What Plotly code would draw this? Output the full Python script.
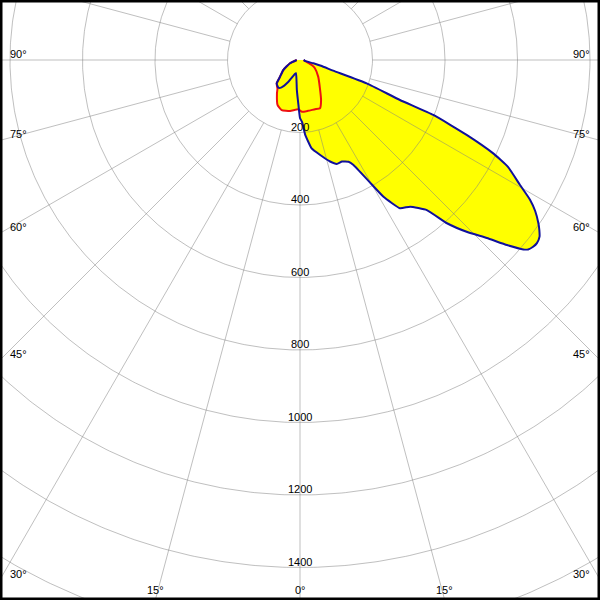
import numpy as np
import plotly.graph_objects as go

# ---------------- data ----------------
# C0-C180 plane (blue outline), angle in degrees from nadir, value in cd/klm
BLUE_ANGLE = [-90, -72, -59, -50, -45, -38, -34, -28, -20, -16.7, -6, -2, 0, 2, 4, 7.5, 12,
              16.5, 19.5, 22.5, 25.5, 27, 29.6, 31.4, 34, 36.9, 40.2, 42, 44.2, 46.4, 48.2,
              49.7, 50.3, 51.3, 52.3, 53.6, 54.6, 55.6, 57.3, 58.7, 60.4, 62.8, 64.2, 65.8,
              67.6, 68.2, 70.7, 72.2, 74.5, 76, 79, 85, 90]
BLUE_VALUE = [9, 29, 54, 72, 91, 97, 91, 68, 41, 38, 83, 124, 160, 172, 207, 246, 268,
              292, 304, 303, 311, 325, 385, 442, 493, 506, 542, 606, 662, 712, 766,
              808, 818, 824, 826, 821, 810, 797, 771, 743, 698, 645, 592, 504,
              398, 297, 195, 96, 60, 38, 14, 12, 10]

# C90-C270 plane (red outline)
RED_ANGLE = [-90, -72, -59, -50, -45, -38, -34.6, -26.4, -20, -11, -2, 2, 9, 17, 22.5,
             27.7, 35, 47.6, 61, 67, 79, 90]
RED_VALUE = [9, 29, 54, 72, 91, 101, 112, 139, 147, 143, 136, 143, 142, 142, 144,
             125, 96, 68, 47, 35, 14, 10]

RADIAL_LABELS = [200, 400, 600, 800, 1000, 1200, 1400]
GRID_CIRCLES = [200, 400, 600, 800, 1000, 1200, 1400, 1600, 1800]
ANGLE_LABELS = [0, 15, 30, 45, 60, 75, 90]
GRID_STEP_DEG = 15

# ---------------- geometry ----------------
W = H = 600
CX, CY = 300.0, 60.0          # pole position in pixels
S = 0.3625                    # pixels per unit

def to_xy(ang, val):
    a = np.radians(np.asarray(ang, float))
    v = np.asarray(val, float)
    return v * np.sin(a), -v * np.cos(a)

fig = go.Figure()

bx, by = to_xy(BLUE_ANGLE, BLUE_VALUE)
rx, ry = to_xy(RED_ANGLE, RED_VALUE)
YELLOW = "#ffff00"
for xx, yy in ((bx, by), (rx, ry)):
    fig.add_trace(go.Scatter(x=xx, y=yy, mode="lines", fill="toself",
                             fillcolor=YELLOW, line=dict(width=0, shape="spline", smoothing=0.4),
                             hoverinfo="skip", showlegend=False))

# grid circles
GRID_COLOR = "rgba(128,128,128,0.5)"
t = np.linspace(0, 2 * np.pi, 721)
gx, gy = [], []
for r in GRID_CIRCLES:
    gx += list(r * np.cos(t)) + [None]
    gy += list(r * np.sin(t)) + [None]
fig.add_trace(go.Scatter(x=gx, y=gy, mode="lines", line=dict(color=GRID_COLOR, width=1),
                         hoverinfo="skip", showlegend=False))
# radial lines (start on the first circle)
lx, ly = [], []
for a in range(0, 360, GRID_STEP_DEG):
    x0, y0 = to_xy([a, a], [GRID_CIRCLES[0], 3000])
    lx += list(x0) + [None]
    ly += list(y0) + [None]
fig.add_trace(go.Scatter(x=lx, y=ly, mode="lines", line=dict(color=GRID_COLOR, width=1),
                         hoverinfo="skip", showlegend=False))

# outlines
fig.add_trace(go.Scatter(x=rx, y=ry, mode="lines",
                         line=dict(color="#ee1111", width=2, shape="spline", smoothing=0.4),
                         hoverinfo="skip", showlegend=False))
fig.add_trace(go.Scatter(x=bx, y=by, mode="lines",
                         line=dict(color="#10109c", width=2, shape="spline", smoothing=0.4),
                         hoverinfo="skip", showlegend=False))

FONT = dict(family="Liberation Sans, Arial, sans-serif", size=11, color="black")
ann = []
for r in RADIAL_LABELS:
    ann.append(dict(x=0, y=-r, xref="x", yref="y", text=str(r), showarrow=False,
                    xanchor="center", yanchor="middle", yshift=6, font=FONT))

# angle labels where the spokes meet the frame
def edge_hit(a_deg, side):
    a = np.radians(a_deg)
    dx, dy = side * np.sin(a), np.cos(a)
    cands = []
    if dx < -1e-9:
        cands.append(((0 - CX) / dx, "left"))
    if dx > 1e-9:
        cands.append(((W - CX) / dx, "right"))
    if dy > 1e-9:
        cands.append(((H - CY) / dy, "bottom"))
    tt, where = min(cands)
    return CX + tt * dx, CY + tt * dy, where

for a in ANGLE_LABELS:
    for side in ((1,) if a == 0 else (-1, 1)):
        px, py, where = edge_hit(a, side)
        if where == "left":
            X, Y, xa = 8, py - 6, "left"
        elif where == "right":
            X, Y, xa = W - 8, py - 6, "right"
        else:
            X, Y, xa = px, 589.5, "center"
        ann.append(dict(x=X / W, y=1 - Y / H, xref="paper", yref="paper",
                        text=f"{a}°", showarrow=False, xanchor=xa, yanchor="middle",
                        font=FONT))

fig.update_layout(
    width=W, height=H, margin=dict(l=0, r=0, t=0, b=0),
    paper_bgcolor="white", plot_bgcolor="white",
    xaxis=dict(range=[-CX / S, (W - CX) / S], visible=False, fixedrange=True),
    yaxis=dict(range=[-(H - CY) / S, CY / S], visible=False, fixedrange=True),
    annotations=ann,
    shapes=[dict(type="rect", xref="paper", yref="paper", x0=0, y0=0, x1=1, y1=1,
                 line=dict(color="black", width=5), layer="above")],
    showlegend=False,
)
fig.write_html("out.html", config={"displayModeBar": False, "staticPlot": True},
               post_script="document.body.style.margin='0';document.body.style.overflow='hidden';")
